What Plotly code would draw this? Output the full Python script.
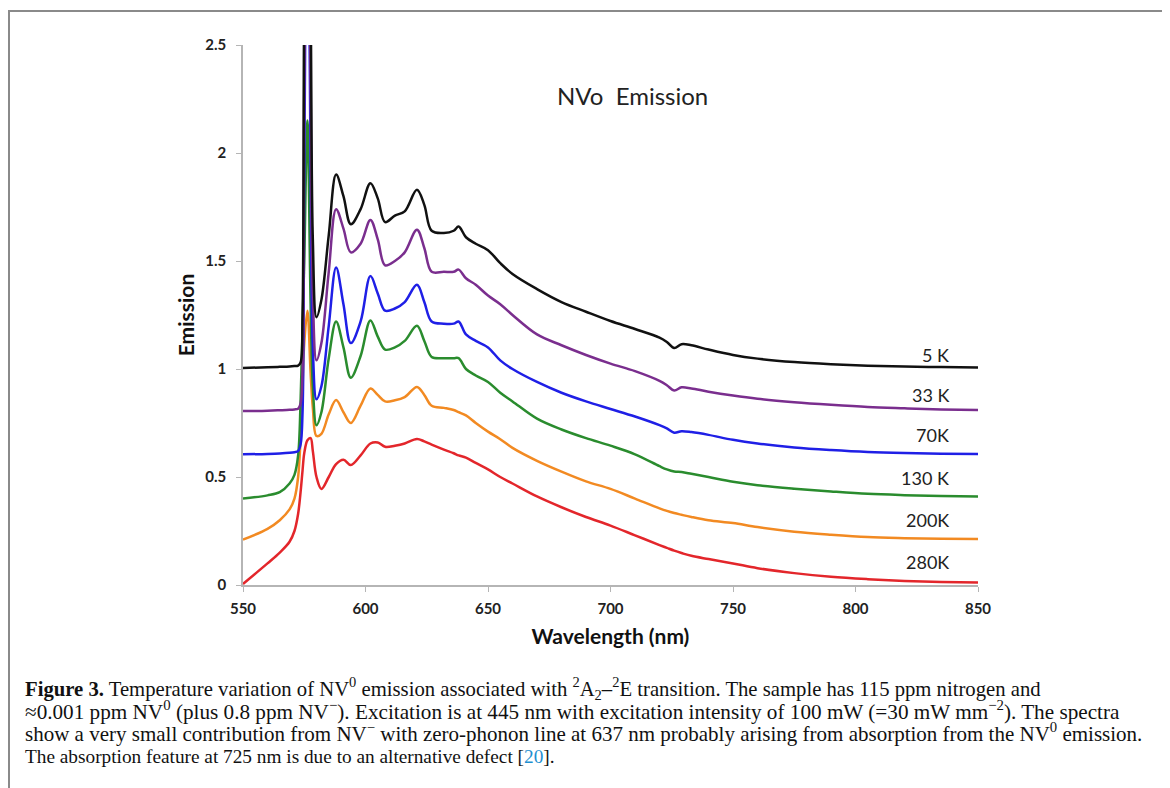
import plotly.graph_objects as go

wavelength = [550, 560, 565, 569, 571, 572.5, 573.5, 574.3, 575.0, 576.3, 577.6, 578.5, 580, 582, 585,
              588, 591, 594, 598, 602, 605, 608, 612, 616, 621, 624, 627, 632, 636, 638, 641, 645,
              650, 655, 660, 670, 680, 690, 700, 710, 720, 723, 726, 729, 733, 740, 750, 760, 775,
              790, 805, 820, 835, 850]

em_5K = [1.005, 1.008, 1.010, 1.012, 1.014, 1.016, 1.03, 1.25, 2.7, 3.6, 2.7, 1.6, 1.24, 1.32, 1.62,
         1.90, 1.80, 1.67, 1.74, 1.86, 1.79, 1.68, 1.71, 1.73, 1.83, 1.76, 1.64, 1.63, 1.64, 1.66, 1.61, 1.58,
         1.55, 1.49, 1.44, 1.37, 1.31, 1.265, 1.222, 1.185, 1.145, 1.125, 1.097, 1.115, 1.11, 1.09, 1.065, 1.048, 1.032,
         1.022, 1.015, 1.011, 1.009, 1.007]

em_33K = [0.805, 0.807, 0.809, 0.811, 0.813, 0.816, 0.84, 1.0, 2.3, 3.6, 2.3, 1.35, 1.04, 1.12, 1.45,
          1.74, 1.65, 1.54, 1.58, 1.69, 1.60, 1.48, 1.50, 1.54, 1.645, 1.56, 1.45, 1.45, 1.45, 1.46, 1.42, 1.39,
          1.34, 1.30, 1.25, 1.16, 1.11, 1.065, 1.025, 0.99, 0.945, 0.925, 0.900, 0.915, 0.91, 0.895, 0.877, 0.862, 0.846,
          0.834, 0.824, 0.818, 0.813, 0.81]

em_70K = [0.605, 0.607, 0.609, 0.612, 0.615, 0.62, 0.65, 0.8, 1.9, 3.6, 1.9, 1.1, 0.86, 0.92, 1.20,
          1.47, 1.30, 1.12, 1.22, 1.43, 1.35, 1.27, 1.28, 1.31, 1.39, 1.31, 1.22, 1.21, 1.21, 1.22, 1.16, 1.13,
          1.10, 1.04, 1.00, 0.94, 0.89, 0.85, 0.815, 0.78, 0.74, 0.725, 0.705, 0.712, 0.708, 0.695, 0.672, 0.655, 0.637,
          0.625, 0.616, 0.611, 0.608, 0.606]

em_130K = [0.40, 0.415, 0.43, 0.47, 0.51, 0.60, 0.85, 1.2, 1.5, 2.15, 1.3, 0.92, 0.74, 0.80, 1.05,
           1.22, 1.10, 0.96, 1.06, 1.225, 1.15, 1.09, 1.10, 1.13, 1.20, 1.13, 1.056, 1.05, 1.05, 1.05, 1.00, 0.97,
           0.94, 0.89, 0.85, 0.77, 0.72, 0.68, 0.645, 0.605, 0.55, 0.535, 0.525, 0.523, 0.515, 0.50, 0.478, 0.462, 0.446,
           0.433, 0.422, 0.416, 0.412, 0.41]

em_200K = [0.21, 0.26, 0.30, 0.35, 0.40, 0.50, 0.68, 0.92, 1.12, 1.27, 0.98, 0.82, 0.69, 0.70, 0.79,
           0.856, 0.80, 0.75, 0.83, 0.91, 0.88, 0.85, 0.855, 0.87, 0.917, 0.88, 0.83, 0.82, 0.81, 0.80, 0.785, 0.75,
           0.71, 0.675, 0.635, 0.575, 0.525, 0.48, 0.445, 0.40, 0.355, 0.343, 0.333, 0.325, 0.315, 0.30, 0.287, 0.268, 0.247,
           0.233, 0.222, 0.217, 0.214, 0.213]

em_280K = [0.005, 0.10, 0.15, 0.20, 0.25, 0.33, 0.43, 0.53, 0.61, 0.67, 0.68, 0.62, 0.50, 0.445, 0.50,
           0.56, 0.58, 0.555, 0.60, 0.655, 0.66, 0.64, 0.645, 0.655, 0.676, 0.665, 0.65, 0.627, 0.61, 0.60, 0.59, 0.565,
           0.535, 0.50, 0.47, 0.41, 0.36, 0.315, 0.275, 0.23, 0.185, 0.172, 0.159, 0.148, 0.135, 0.12, 0.10, 0.078, 0.055,
           0.038, 0.027, 0.019, 0.014, 0.011]

series_names = ["280K", "200K", "130 K", "70K", "33 K", "5 K"]
series_values = [em_280K, em_200K, em_130K, em_70K, em_33K, em_5K]
series_colors = ["#e3262b", "#f28a22", "#2a8c2e", "#1f1fe6", "#7a2e8e", "#111111"]
label_x = 839
label_y = [0.106, 0.30, 0.495, 0.694, 0.88, 1.065]

x_ticks = [550, 600, 650, 700, 750, 800, 850]
y_ticks = [0, 0.5, 1, 1.5, 2, 2.5]
y_ticklabels = ["0", "0.5", "1", "1.5", "2", "2.5"]

caption_lines = [
    "<b>Figure 3.</b> Temperature variation of NV<sup>0</sup> emission associated with "
    "<sup>2</sup>A<sub>2</sub>–<sup>2</sup>E transition. The sample has 115 ppm nitrogen and",
    "≈0.001 ppm NV<sup>0</sup> (plus 0.8 ppm NV<sup>−</sup>). Excitation is at 445 nm with excitation "
    "intensity of 100 mW (=30 mW mm<sup>−2</sup>). The spectra",
    "show a very small contribution from NV<sup>−</sup> with zero-phonon line at 637 nm probably arising "
    "from absorption from the NV<sup>0</sup> emission.",
    "The absorption feature at 725 nm is due to an alternative defect "
    "[<span style='color:#1e8fd0'>20</span>].",
]
caption_sizes = [20.7, 21.2, 21, 19.3]
caption_ypos = [688, 710, 732, 756]

# page offset of 8px (body margin)
OFF = 8
W, H = 1170 - OFF, 788 - OFF
L, R, T, B = 243, 978, 45, 585  # plot area in page pixels


def px(xp):
    return (xp - L) / (R - L)


def py(yp):
    return (B - yp) / (B - T)


def yval(yp):
    return (B - yp) / (B - T) * 2.5


def xval(xp):
    return 550 + (xp - L) / (R - L) * 300


fig = go.Figure()
for name, vals, col in zip(series_names, series_values, series_colors):
    fig.add_trace(go.Scatter(x=wavelength, y=vals, mode="lines", name=name,
                             line=dict(color=col, width=2.5, shape="spline", smoothing=1.0),
                             showlegend=False))

for name, ly, col in zip(series_names, label_y, series_colors):
    fig.add_annotation(x=label_x, y=ly, xref="x", yref="y", text=name, showarrow=False,
                       xanchor="right", yanchor="middle",
                       font=dict(family="Lato", size=18, color="#222222"))

fig.add_annotation(x=xval(632), y=yval(95), xref="x", yref="y", text="NVo  Emission", showarrow=False,
                   xanchor="center", yanchor="middle",
                   font=dict(family="Lato", size=24, color="#222222"))

for txt, sz, yp in zip(caption_lines, caption_sizes, caption_ypos):
    fig.add_annotation(x=px(23), y=py(yp), xref="paper", yref="paper", text=txt, showarrow=False,
                       xanchor="left", yanchor="middle", align="left",
                       font=dict(family="Liberation Serif", size=sz, color="#111111"))

fig.add_shape(type="rect", xref="paper", yref="paper",
              x0=px(9), x1=px(1163), y0=py(800), y1=py(11),
              line=dict(color="#8a8a8a", width=2), fillcolor="rgba(0,0,0,0)")

fig.update_layout(
    width=W, height=H,
    margin=dict(l=L - OFF, r=W - (R - OFF), t=T - OFF, b=H - (B - OFF)),
    paper_bgcolor="white", plot_bgcolor="white",
    xaxis=dict(range=[550, 850], tickvals=x_ticks, showgrid=False, zeroline=False,
               showline=True, linecolor="#b5b5b5", linewidth=1.5,
               ticks="outside", ticklen=5, tickcolor="#b5b5b5", ticklabelstandoff=4,
               tickfont=dict(family="Lato", size=15, color="#222222", weight="bold"),
               title=dict(text="Wavelength (nm)", standoff=14,
                          font=dict(family="Lato", size=21, color="#111111", weight="bold"))),
    yaxis=dict(range=[0, 2.5], tickvals=y_ticks, ticktext=y_ticklabels, showgrid=False, zeroline=False,
               showline=True, linecolor="#b5b5b5", linewidth=1.5,
               ticks="outside", ticklen=5, tickcolor="#b5b5b5", ticklabelstandoff=7,
               tickfont=dict(family="Lato", size=15, color="#222222", weight="bold"),
               title=dict(text="Emission", standoff=5,
                          font=dict(family="Lato", size=21, color="#111111", weight="bold"))),
)

fig.write_html("out.html")
